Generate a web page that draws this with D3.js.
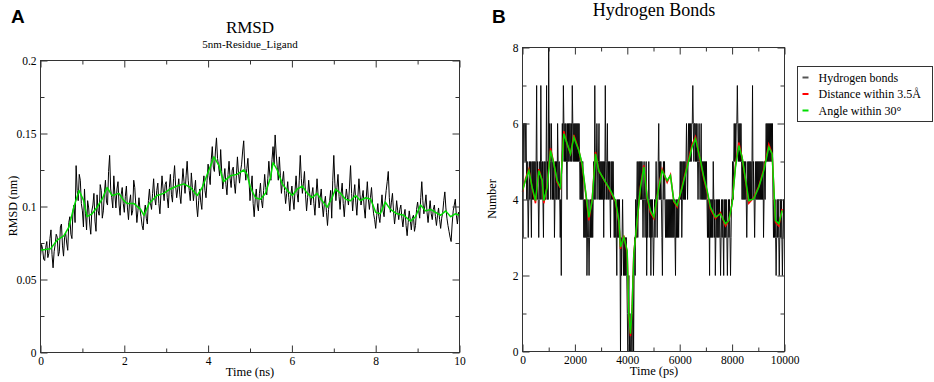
<!DOCTYPE html>
<html>
<head>
<meta charset="utf-8">
<script src="https://cdn.jsdelivr.net/npm/d3@7"></script>
<style>
  body { margin: 0; background: #fff; }
  svg { display: block; }
</style>
</head>
<body>
<svg id="chart" width="934" height="382"></svg>
<script>
// ---- panel A : RMSD (nm) vs time (ns), one row = 1 ns ----
var rmsdStep = 0.025;
var rmsdValues = [
  0.066, 0.074, 0.071, 0.064, 0.063, 0.072, 0.076, 0.065, 0.068, 0.078, 0.084, 0.067, 0.058, 0.069, 0.074, 0.081, 0.079, 0.066, 0.069, 0.086,
  0.088, 0.073, 0.066, 0.079, 0.082, 0.075, 0.070, 0.089, 0.093, 0.081, 0.078, 0.097, 0.101, 0.089, 0.128, 0.111, 0.104, 0.122, 0.118, 0.102,
  0.097, 0.086, 0.112, 0.095, 0.084, 0.104, 0.099, 0.088, 0.081, 0.097, 0.101, 0.109, 0.090, 0.083, 0.108, 0.097, 0.094, 0.115, 0.111, 0.092,
  0.097, 0.109, 0.118, 0.103, 0.101, 0.124, 0.135, 0.112, 0.106, 0.099, 0.121, 0.108, 0.099, 0.112, 0.117, 0.101, 0.094, 0.108, 0.113, 0.102,
  0.096, 0.107, 0.114, 0.099, 0.091, 0.103, 0.108, 0.094, 0.097, 0.118, 0.113, 0.101, 0.089, 0.097, 0.106, 0.098, 0.093, 0.087, 0.084, 0.095,
  0.101, 0.092, 0.088, 0.104, 0.112, 0.102, 0.098, 0.109, 0.119, 0.106, 0.101, 0.111, 0.116, 0.102, 0.095, 0.109, 0.121, 0.112, 0.104, 0.115,
  0.117, 0.106, 0.099, 0.113, 0.122, 0.108, 0.103, 0.119, 0.128, 0.114, 0.106, 0.112, 0.119, 0.108, 0.102, 0.115, 0.126, 0.117, 0.109, 0.121,
  0.131, 0.118, 0.111, 0.104, 0.123, 0.113, 0.104, 0.111, 0.118, 0.101, 0.093, 0.104, 0.112, 0.103, 0.098, 0.114, 0.121, 0.111, 0.106, 0.118,
  0.129, 0.121, 0.115, 0.132, 0.141, 0.127, 0.124, 0.138, 0.147, 0.133, 0.128, 0.121, 0.139, 0.124, 0.112, 0.119, 0.126, 0.115, 0.108, 0.122,
  0.131, 0.119, 0.113, 0.125, 0.127, 0.116, 0.109, 0.121, 0.134, 0.123, 0.116, 0.124, 0.129, 0.138, 0.145, 0.127, 0.118, 0.126, 0.133, 0.119,
  0.104, 0.113, 0.121, 0.102, 0.093, 0.105, 0.112, 0.101, 0.097, 0.109, 0.116, 0.104, 0.099, 0.111, 0.122, 0.113, 0.108, 0.119, 0.131, 0.121,
  0.118, 0.132, 0.141, 0.129, 0.149, 0.136, 0.127, 0.118, 0.134, 0.121, 0.109, 0.117, 0.124, 0.111, 0.102, 0.109, 0.117, 0.106, 0.097, 0.108,
  0.114, 0.105, 0.098, 0.111, 0.121, 0.109, 0.103, 0.118, 0.135, 0.119, 0.109, 0.116, 0.124, 0.108, 0.097, 0.106, 0.118, 0.109, 0.101, 0.108,
  0.113, 0.102, 0.094, 0.107, 0.119, 0.108, 0.099, 0.106, 0.112, 0.101, 0.093, 0.102, 0.107, 0.096, 0.087, 0.098, 0.104, 0.111, 0.092, 0.118,
  0.135, 0.116, 0.104, 0.113, 0.122, 0.107, 0.098, 0.109, 0.116, 0.102, 0.093, 0.104, 0.112, 0.106, 0.101, 0.114, 0.128, 0.109, 0.097, 0.108,
  0.115, 0.103, 0.094, 0.107, 0.119, 0.108, 0.101, 0.106, 0.111, 0.099, 0.092, 0.106, 0.117, 0.105, 0.098, 0.106, 0.113, 0.102, 0.095, 0.091,
  0.085, 0.094, 0.102, 0.093, 0.089, 0.099, 0.108, 0.097, 0.093, 0.104, 0.111, 0.117, 0.124, 0.106, 0.096, 0.103, 0.109, 0.097, 0.088, 0.095,
  0.104, 0.097, 0.091, 0.098, 0.101, 0.092, 0.086, 0.094, 0.098, 0.087, 0.080, 0.089, 0.097, 0.091, 0.084, 0.092, 0.094, 0.083, 0.087, 0.098,
  0.103, 0.097, 0.092, 0.106, 0.117, 0.104, 0.095, 0.101, 0.108, 0.096, 0.089, 0.097, 0.104, 0.095, 0.091, 0.098, 0.101, 0.093, 0.087, 0.094,
  0.099, 0.091, 0.085, 0.092, 0.096, 0.104, 0.110, 0.099, 0.092, 0.087, 0.083, 0.079, 0.076, 0.088, 0.097, 0.101, 0.105, 0.094, 0.088, 0.096,
  0.093
];
// running average (green)
var rmsdAvgTime = [0, 0.24, 0.40, 0.56, 0.68, 0.80, 0.92, 1.03, 1.11, 1.23, 1.35, 1.47, 1.59, 1.71, 1.87, 1.99, 2.07, 2.23, 2.39, 2.47,
  2.59, 2.78, 2.94, 3.10, 3.26, 3.42, 3.58, 3.74, 3.86, 4.02, 4.14, 4.26, 4.37, 4.53, 4.69, 4.85, 4.93, 5.01, 5.13, 5.25,
  5.37, 5.49, 5.55, 5.65, 5.77, 5.89, 6.01, 6.13, 6.25, 6.37, 6.48, 6.60, 6.72, 6.84, 6.96, 7.04, 7.16, 7.28, 7.40, 7.52,
  7.64, 7.76, 7.88, 8.00, 8.11, 8.23, 8.35, 8.51, 8.67, 8.83, 8.95, 9.07, 9.19, 9.31, 9.43, 9.55, 9.67, 9.79, 9.90, 10.0];
var rmsdAvgValue = [0.070, 0.071, 0.077, 0.080, 0.086, 0.100, 0.111, 0.104, 0.093, 0.095, 0.0995, 0.105, 0.113, 0.1075, 0.109, 0.104, 0.102, 0.102, 0.098, 0.094,
  0.102, 0.1075, 0.109, 0.112, 0.114, 0.1155, 0.113, 0.1075, 0.113, 0.125, 0.134, 0.128, 0.117, 0.121, 0.122, 0.125, 0.122, 0.113, 0.106, 0.105,
  0.109, 0.120, 0.130, 0.125, 0.1155, 0.111, 0.1075, 0.112, 0.114, 0.109, 0.106, 0.109, 0.104, 0.0995, 0.106, 0.112, 0.109, 0.105, 0.104, 0.1075,
  0.104, 0.106, 0.105, 0.096, 0.095, 0.103, 0.098, 0.095, 0.094, 0.090, 0.093, 0.101, 0.097, 0.098, 0.096, 0.094, 0.097, 0.093, 0.095, 0.094];

// ---- panel B : hydrogen bonds vs time (ps), one row = 500 ps ----
var hbStep = 20;
var hbCount = [
  4,3,6,6,6,5,6,6,4,5,4,3,4,5,4,5,4,3,5,4,5,4,5,4,5,
  4,5,7,4,5,4,3,4,5,4,7,5,4,5,4,3,5,4,5,4,5,7,4,5,4,
  8,5,6,5,4,6,5,4,5,4,5,3,4,5,4,5,4,6,5,4,5,4,3,4,2,
  5,6,5,7,6,5,6,5,6,5,4,6,5,6,5,6,6,5,6,5,7,6,5,6,5,
  6,5,6,5,6,5,6,5,6,5,4,5,4,5,4,5,4,3,4,3,4,3,4,2,3,
  4,3,2,3,4,3,4,3,4,3,4,5,4,7,5,4,5,6,5,4,5,6,4,5,4,
  5,4,5,4,5,3,5,4,7,5,4,5,6,4,5,4,5,4,3,5,4,5,4,5,4,
  3,4,3,4,3,2,4,3,4,3,4,3,0,3,2,3,4,3,2,3,2,3,2,3,2,
  1,0,1,2,0,1,0,0,1,0,1,2,0,2,3,2,4,3,4,5,3,4,5,4,5,
  4,5,4,5,4,3,4,5,4,3,4,5,2,4,3,4,5,4,3,4,2,4,3,4,3,
  2,3,4,3,4,5,4,3,4,5,6,4,5,4,5,4,3,2,4,5,4,5,4,3,4,
  3,4,3,4,3,4,3,4,3,4,3,4,3,4,3,4,3,2,4,3,4,3,4,3,4,
  4,5,4,5,3,4,5,4,5,4,5,4,5,6,5,4,5,6,5,6,5,6,5,6,6,
  7,6,5,6,6,5,6,5,6,5,4,5,6,5,4,5,6,4,5,4,5,4,5,4,5,
  4,5,4,3,4,3,4,2,4,3,4,3,4,3,5,4,3,4,2,3,4,3,4,3,4,
  3,4,3,2,3,4,3,4,3,2,4,3,4,3,4,3,2,3,4,3,4,3,2,3,4,
  4,5,4,5,6,5,6,5,6,6,7,6,5,6,5,6,5,6,5,4,5,4,5,4,5,
  4,5,4,3,4,5,4,5,4,5,4,5,4,5,7,4,5,4,3,4,5,4,5,4,5,
  4,5,4,5,4,5,4,5,4,5,3,4,5,4,5,6,5,6,5,6,5,6,5,6,5,
  6,5,6,4,3,4,3,4,3,2,3,4,3,4,3,2,3,4,3,4,3,2,3,4,3
];
var hbAvgTime = [0, 114, 242, 369, 496, 623, 750, 814, 941, 1069, 1196, 1323, 1450, 1577, 1705, 1832, 1959,
  2150, 2277, 2404, 2531, 2659, 2786, 2913, 3168, 3359, 3549, 3677, 3740, 3867, 3995,
  4058, 4122, 4185, 4249, 4376, 4503, 4630, 4758, 4885, 5012, 5203, 5330, 5521, 5648, 5775, 5903,
  6093, 6284, 6475, 6602, 6793, 6920, 7047, 7175, 7365, 7556, 7747, 7874,
  8001, 8129, 8256, 8383, 8510, 8637, 8828, 9019, 9210, 9401, 9528, 9655, 9783, 9910];
var hbDistance = [4.2, 4.55, 4.8, 4.3, 3.9, 4.8, 4.5, 3.9, 4.35, 5.35, 4.95, 4.45, 4.3, 5.8, 5.45, 5.2, 5.7,
  5.3, 4.9, 4.2, 3.45, 4.0, 5.25, 4.75, 4.45, 4.2, 3.95, 3.4, 2.7, 3.05, 2.6,
  0.95, 0.4, 1.2, 2.6, 3.4, 4.35, 4.9, 4.05, 3.65, 3.5, 4.35, 4.8, 4.45, 4.65, 3.95, 3.8,
  4.35, 4.9, 5.45, 5.65, 5.0, 4.55, 4.2, 3.75, 3.5, 3.65, 3.3, 3.45,
  3.9, 4.9, 5.5, 5.1, 4.5, 3.9, 4.05, 4.35, 4.8, 5.45, 5.2, 3.4, 3.3, 3.75];
var hbAngle = [4.24, 4.5, 4.76, 4.32, 3.97, 4.76, 4.5, 3.97, 4.32, 5.29, 4.94, 4.5, 4.32, 5.73, 5.47, 5.2, 5.64,
  5.29, 4.94, 4.24, 3.53, 3.97, 5.2, 4.76, 4.46, 4.24, 3.97, 3.45, 2.75, 3.01, 2.66,
  0.99, 0.47, 1.17, 2.57, 3.45, 4.32, 4.85, 4.06, 3.71, 3.54, 4.32, 4.76, 4.5, 4.63, 3.97, 3.84,
  4.32, 4.85, 5.38, 5.6, 5.03, 4.59, 4.24, 3.8, 3.54, 3.62, 3.36, 3.45,
  3.89, 4.85, 5.42, 5.11, 4.54, 3.97, 4.02, 4.32, 4.76, 5.38, 5.2, 3.45, 3.36, 3.71];
var legendLabels = ["Hydrogen bonds", "Distance within 3.5\u00c5", "Angle within 30\u00b0"];
var legendColors = ["#555", "#ff0000", "#00dd00"];

var serif = "'Liberation Serif', 'Times New Roman', serif";
var svg = d3.select("#chart");

// xmgrace style box: ticks inward on all four sides
function drawFrame(g, x, y, w, h, xMaj, xMin, yMaj, yMin, xFmt, yFmt) {
    g.append("g").attr("transform", "translate(0," + h + ")")
        .call(d3.axisBottom(x).tickValues(xMaj).tickSize(-7).tickPadding(4).tickFormat(xFmt));
    g.append("g").attr("transform", "translate(0," + h + ")")
        .call(d3.axisBottom(x).tickValues(xMin).tickSize(-4).tickFormat(""));
    g.append("g").call(d3.axisTop(x).tickValues(xMaj).tickSize(-7).tickFormat(""));
    g.append("g").call(d3.axisTop(x).tickValues(xMin).tickSize(-4).tickFormat(""));
    g.append("g").call(d3.axisLeft(y).tickValues(yMaj).tickSize(-7).tickPadding(4).tickFormat(yFmt));
    g.append("g").call(d3.axisLeft(y).tickValues(yMin).tickSize(-4).tickFormat(""));
    g.append("g").attr("transform", "translate(" + w + ",0)")
        .call(d3.axisRight(y).tickValues(yMaj).tickSize(-7).tickFormat(""));
    g.append("g").attr("transform", "translate(" + w + ",0)")
        .call(d3.axisRight(y).tickValues(yMin).tickSize(-4).tickFormat(""));

    g.selectAll(".domain").remove();
    g.selectAll(".tick line").attr("stroke", "#333");
    g.selectAll(".tick text").attr("font-family", serif).attr("font-size", 11.5).attr("fill", "#000");
    g.append("rect").attr("width", w).attr("height", h)
        .attr("fill", "none").attr("stroke", "#333").attr("stroke-width", 1);
}

// ---------------- panel A ----------------
var wA = 419, hA = 292;
var gA = svg.append("g").attr("transform", "translate(40.5,60.5)");
var xA = d3.scaleLinear().domain([0, 10]).range([0, wA]);
var yA = d3.scaleLinear().domain([0, 0.2]).range([hA, 0]);

var lineA = d3.line()
    .x(function(d, i) { return xA(i * rmsdStep); })
    .y(function(d) { return yA(d); });
gA.append("path").datum(rmsdValues)
    .attr("fill", "none").attr("stroke", "#000").attr("stroke-width", 1)
    .attr("stroke-linejoin", "round").attr("d", lineA);

var avgA = d3.line()
    .x(function(d) { return xA(d[0]); })
    .y(function(d) { return yA(d[1]); });
gA.append("path").datum(d3.zip(rmsdAvgTime, rmsdAvgValue))
    .attr("fill", "none").attr("stroke", "#00dd00").attr("stroke-width", 1.5)
    .attr("stroke-linejoin", "round").attr("d", avgA);

drawFrame(gA, xA, yA, wA, hA,
    [0, 2, 4, 6, 8, 10], [1, 3, 5, 7, 9],
    [0, 0.05, 0.1, 0.15, 0.2], [0.025, 0.075, 0.125, 0.175],
    d3.format("~g"), d3.format("~g"));

svg.append("text").attr("x", 250).attr("y", 33).attr("text-anchor", "middle")
    .attr("font-family", serif).attr("font-size", 17).text("RMSD");
svg.append("text").attr("x", 250).attr("y", 48).attr("text-anchor", "middle")
    .attr("font-family", serif).attr("font-size", 11).text("5nm-Residue_Ligand");
svg.append("text").attr("x", 250).attr("y", 376).attr("text-anchor", "middle")
    .attr("font-family", serif).attr("font-size", 12.5).text("Time (ns)");
svg.append("text").attr("transform", "translate(17,206) rotate(-90)").attr("text-anchor", "middle")
    .attr("font-family", serif).attr("font-size", 12).text("RMSD (nm)");
svg.append("text").attr("x", 11).attr("y", 23)
    .attr("font-family", "'Liberation Sans', Arial, sans-serif").attr("font-weight", "bold")
    .attr("font-size", 19).text("A");

// ---------------- panel B ----------------
var wB = 262, hB = 304;
var gB = svg.append("g").attr("transform", "translate(522.5,47.5)");
var xB = d3.scaleLinear().domain([0, 10000]).range([0, wB]);
var yB = d3.scaleLinear().domain([0, 8]).range([hB, 0]);

var lineB = d3.line()
    .x(function(d, i) { return xB(i * hbStep); })
    .y(function(d) { return yB(d); });
gB.append("path").datum(hbCount)
    .attr("fill", "none").attr("stroke", "#000").attr("stroke-width", 0.9)
    .attr("d", lineB);

var avgB = d3.line()
    .x(function(d) { return xB(d[0]); })
    .y(function(d) { return yB(d[1]); });
gB.append("path").datum(d3.zip(hbAvgTime, hbDistance))
    .attr("fill", "none").attr("stroke", "#ff0000").attr("stroke-width", 1.5)
    .attr("d", avgB);
gB.append("path").datum(d3.zip(hbAvgTime, hbAngle))
    .attr("fill", "none").attr("stroke", "#00dd00").attr("stroke-width", 1.5)
    .attr("d", avgB);

drawFrame(gB, xB, yB, wB, hB,
    [0, 2000, 4000, 6000, 8000, 10000], [1000, 3000, 5000, 7000, 9000],
    [0, 2, 4, 6, 8], [1, 3, 5, 7],
    d3.format("d"), d3.format("d"));

svg.append("text").attr("x", 654).attr("y", 16).attr("text-anchor", "middle")
    .attr("font-family", serif).attr("font-size", 18).text("Hydrogen Bonds");
svg.append("text").attr("x", 654).attr("y", 375).attr("text-anchor", "middle")
    .attr("font-family", serif).attr("font-size", 12.5).text("Time (ps)");
svg.append("text").attr("transform", "translate(496,199) rotate(-90)").attr("text-anchor", "middle")
    .attr("font-family", serif).attr("font-size", 12).text("Number");
svg.append("text").attr("x", 492).attr("y", 23)
    .attr("font-family", "'Liberation Sans', Arial, sans-serif").attr("font-weight", "bold")
    .attr("font-size", 19).text("B");

// legend
var leg = svg.append("g").attr("transform", "translate(797.5,66.5)");
leg.append("rect").attr("width", 135).attr("height", 55)
    .attr("fill", "#fff").attr("stroke", "#333");
var rows = leg.selectAll("g.row").data(legendLabels).enter().append("g")
    .attr("transform", function(d, i) { return "translate(0," + (11 + i * 16.5) + ")"; });
rows.append("line").attr("x1", 5).attr("x2", 11)
    .attr("stroke", function(d, i) { return legendColors[i]; }).attr("stroke-width", 2);
rows.append("text").attr("x", 21).attr("y", 4)
    .attr("font-family", serif).attr("font-size", 12).text(function(d) { return d; });
</script>
</body>
</html>
